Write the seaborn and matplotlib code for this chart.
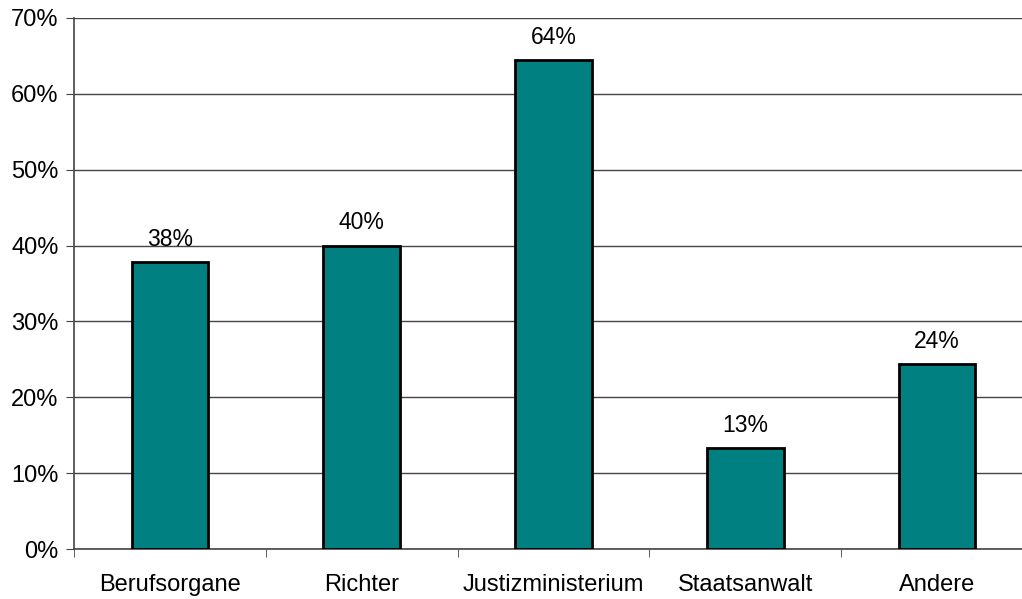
import numpy as np
import pandas as pd
import matplotlib.pyplot as plt
import seaborn as sns
from matplotlib.ticker import FixedLocator

categories = ['Berufsorgane', 'Richter', 'Justizministerium', 'Staatsanwalt', 'Andere']
values = [37.8, 40.0, 64.5, 13.3, 24.4]
labels = ['38%', '40%', '64%', '13%', '24%']
y_ticks = [0, 10, 20, 30, 40, 50, 60, 70]

df = pd.DataFrame({'Kategorie': categories, 'Anteil': values})

sns.set_style('white')
plt.rcParams['font.family'] = ['Liberation Sans', 'DejaVu Sans']
plt.rcParams['text.color'] = 'black'
plt.rcParams['xtick.color'] = 'black'
plt.rcParams['ytick.color'] = 'black'

fig = plt.figure(figsize=(10.22, 5.99), dpi=100)
ax = fig.add_axes([74 / 1022, 50 / 599, 959 / 1022, 531 / 599])

sns.barplot(data=df, x='Kategorie', y='Anteil', color='#008080', saturation=1,
            width=0.4, edgecolor='black', linewidth=2, ax=ax, zorder=3)

for i, (v, lab) in enumerate(zip(values, labels)):
    ax.annotate(lab, (i, v), xytext=(0, 8), textcoords='offset points',
                ha='center', va='bottom', fontsize=16.5)

ax.set_xlim(-0.5, len(categories) - 0.5)
ax.set_ylim(0, 70)
ax.set_yticks(y_ticks)
ax.set_yticklabels([f'{t}%' for t in y_ticks], fontsize=17)
ax.yaxis.grid(True, color='#444444', linewidth=1)
ax.set_axisbelow(True)

ax.set_xticks(range(len(categories)))
ax.set_xticklabels(categories, fontsize=17)
ax.tick_params(axis='x', which='major', length=0, pad=18)
ax.xaxis.set_minor_locator(FixedLocator(np.arange(-0.5, len(categories), 1)))
ax.tick_params(axis='x', which='minor', length=6, color='#444444', direction='out', bottom=True)
ax.tick_params(axis='y', length=6, color='#444444', direction='out', left=True, pad=5)

for s in ['top', 'right']:
    ax.spines[s].set_visible(False)
for s in ['left', 'bottom']:
    ax.spines[s].set_color('#444444')
    ax.spines[s].set_linewidth(1.2)

ax.set_xlabel('')
ax.set_ylabel('')

fig.savefig('out.png', dpi=100)
